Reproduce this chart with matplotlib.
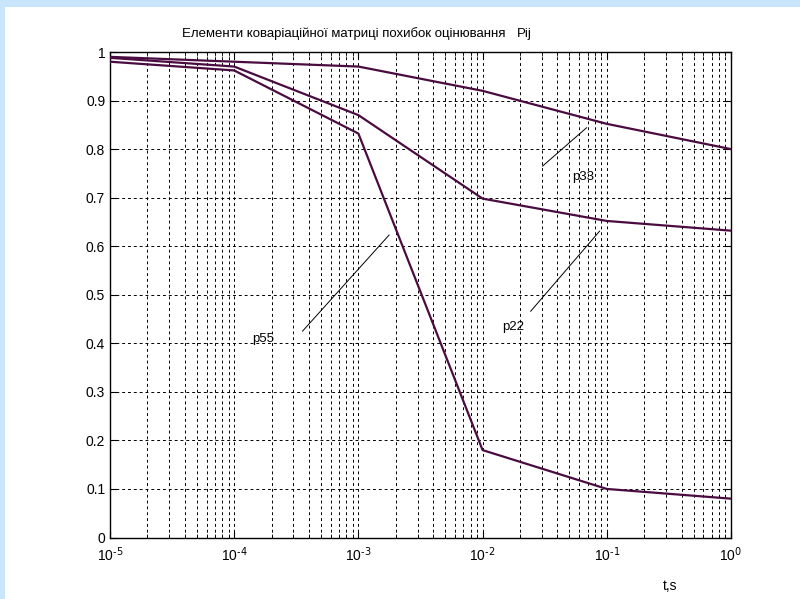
import matplotlib
matplotlib.use("Agg")
import matplotlib.pyplot as plt
from matplotlib.patches import Rectangle

plt.rcParams['font.family'] = ['Liberation Sans', 'DejaVu Sans']
plt.rcParams['mathtext.default'] = 'regular'

t = [1e-5, 1e-4, 1e-3, 1e-2, 1e-1, 1e0]
p33 = [0.990, 0.980, 0.970, 0.920, 0.852, 0.800]
p22 = [0.988, 0.970, 0.870, 0.698, 0.652, 0.632]
p55 = [0.980, 0.962, 0.832, 0.180, 0.100, 0.080]

xtick_labels = [r'$10^{\text{-5}}$', r'$10^{\text{-4}}$', r'$10^{\text{-3}}$',
                r'$10^{\text{-2}}$', r'$10^{\text{-1}}$', r'$10^{\text{0}}$']
yticks = [0, 0.1, 0.2, 0.3, 0.4, 0.5, 0.6, 0.7, 0.8, 0.9, 1]
ytick_labels = ['0', '0.1', '0.2', '0.3', '0.4', '0.5', '0.6', '0.7', '0.8', '0.9', '1']

# annotation: (label, text pos, line start, line end) in data coords
notes = [
    ('p33', (10**-1.281, 0.743), (10**-1.517, 0.765), (10**-1.163, 0.844)),
    ('p22', (10**-1.844, 0.434), (10**-1.613, 0.466), (10**-1.058, 0.631)),
    ('p55', (10**-3.852, 0.408), (10**-3.450, 0.425), (10**-2.753, 0.623)),
]

line_color = '#4a0c40'

fig = plt.figure(figsize=(8, 5.99), dpi=100)
fig.patch.set_facecolor('#c8e5fb')
fig.patches.append(Rectangle((5 / 800, 0), 1, 1 - 7 / 599, transform=fig.transFigure,
                             facecolor='white', edgecolor='none', zorder=-1))

ax = fig.add_axes([110 / 800, 1 - 537.5 / 599, 621 / 800, 485.5 / 599])
ax.set_facecolor('white')

for y in (p33, p22, p55):
    ax.plot(t, y, color=line_color, lw=1.6, zorder=3)

for lab, tp, a, b in notes:
    ax.plot([a[0], b[0]], [a[1], b[1]], color='black', lw=0.7, zorder=3)
    ax.text(tp[0], tp[1], lab, fontsize=9.5, va='center', ha='left')

ax.set_xscale('log')
ax.set_xlim(1e-5, 1)
ax.set_ylim(0, 1)
ax.set_yticks(yticks)
ax.set_yticklabels(ytick_labels)
ax.set_xticks(t)
ax.set_xticklabels(xtick_labels)

ax.grid(True, which='major', color='black', ls=(0, (3, 3)), lw=0.7)
ax.grid(True, which='minor', axis='x', color='black', ls=(0, (3, 3)), lw=0.7)
ax.tick_params(which='both', direction='in', top=True, right=True, labelsize=10)
ax.tick_params(which='major', length=5)
ax.tick_params(which='minor', length=3)
ax.tick_params(axis='x', pad=6)
for s in ax.spines.values():
    s.set_linewidth(1.0)

fig.text(182 / 800, 1 - 34 / 599, 'Елементи коваріаційної матриці похибок оцінювання',
         fontsize=9.5, va='center', ha='left')
fig.text(517 / 800, 1 - 34 / 599, 'Pij', fontsize=9.5, va='center', ha='left')
fig.text(670 / 800, 1 - 586 / 599, 't,s', fontsize=10, va='center', ha='center')

fig.savefig('out.png', dpi=100, facecolor=fig.get_facecolor())
